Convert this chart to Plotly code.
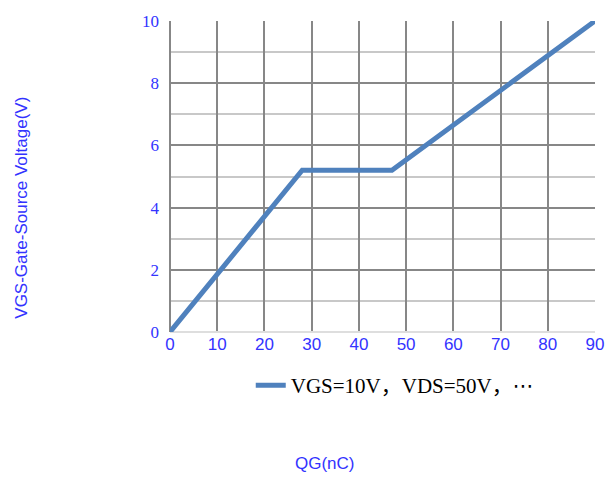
import plotly.graph_objects as go

qg = [0, 28, 47, 90]
vgs = [0, 5.2, 5.2, 10]
series_name = "VGS=10V，VDS=50V，<span style='font-family:DejaVu Sans'>⋯</span>"
x_title = "QG(nC)"
y_title = "VGS-Gate-Source Voltage(V)"

fig = go.Figure()
fig.add_trace(go.Scatter(x=qg, y=vgs, mode="lines", name=series_name,
                         line=dict(color="#4F81BD", width=5)))

blue = "#3333FF"
fig.update_layout(
    width=616, height=477,
    margin=dict(l=170, r=21, t=18, b=145),
    plot_bgcolor="white", paper_bgcolor="white",
    showlegend=True,
    legend=dict(orientation="h", x=0.19, xanchor="left", y=-0.172, yanchor="middle",
                font=dict(family="Liberation Serif, Noto Sans CJK SC", size=21, color="black"),
                bgcolor="rgba(0,0,0,0)"),
    xaxis=dict(range=[0, 90], dtick=10, tick0=0, showgrid=True, gridcolor="#878787", gridwidth=2,
               zeroline=True, zerolinecolor="#878787", zerolinewidth=2,
               tickfont=dict(family="Liberation Sans, Arial", size=17, color=blue),
               ticks="", showline=False, fixedrange=True),
    yaxis=dict(range=[0, 10], dtick=2, tick0=0, showgrid=True, gridcolor="#878787", gridwidth=2,
               minor=dict(dtick=1, showgrid=True, gridcolor="#c8c8c8", gridwidth=2),
               zeroline=True, zerolinecolor="#dedede", zerolinewidth=2,
               tickfont=dict(family="Liberation Serif, Times New Roman", size=17, color=blue),
               ticks="", ticklabelstandoff=10, showline=False, fixedrange=True),
    annotations=[
        dict(text=x_title, xref="paper", yref="paper", x=0.365, y=-0.424,
             xanchor="center", yanchor="middle",
             showarrow=False, font=dict(family="Liberation Sans, Arial", size=17, color=blue)),
        dict(text=y_title, xref="paper", yref="paper", x=-0.348, y=0.40, textangle=-90,
             xanchor="center", yanchor="middle",
             showarrow=False, font=dict(family="Liberation Sans, Arial", size=17, color=blue)),
    ],
)
fig.write_html("out.html", config={"displayModeBar": False},
               post_script="document.body.style.margin='0';document.body.style.overflow='hidden';")
